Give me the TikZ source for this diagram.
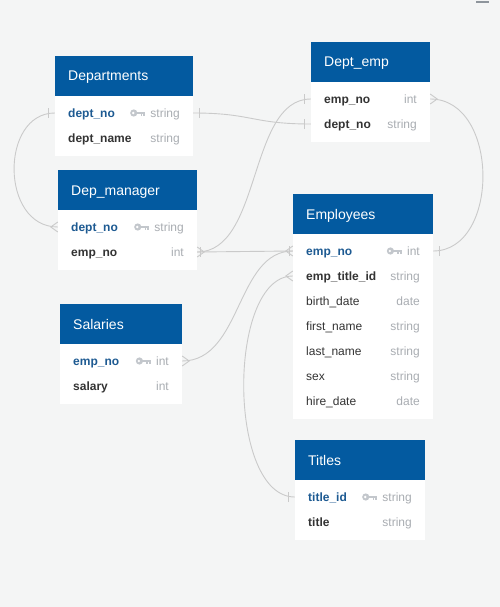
\documentclass[tikz,border=0pt]{standalone}
\usepackage{fontspec}
\setmainfont{Liberation Sans}
\definecolor{canvas}{HTML}{F4F5F5}
\definecolor{hdrblue}{HTML}{035AA0}
\definecolor{pkblue}{HTML}{1D5A92}
\definecolor{fdark}{HTML}{333333}
\definecolor{ftgray}{HTML}{A9ADB2}
\definecolor{keygray}{HTML}{C3C7CC}
\definecolor{linkgray}{HTML}{CACACA}
\definecolor{markgray}{HTML}{8E959C}

% table header: id, x, y (top), width, title
\newcommand{\erhead}[5]{%
  \node[hdr, minimum width=#4, anchor=north west] (#1) at (#2,#3) {};
  \node[hdrtext, anchor=base west] (#1-title) at (#2+13,#3+25) {#5};
}
% table body: id, x, y (top of header), width, height
\newcommand{\erbody}[5]{%
  \node[bodybox, minimum width=#4, minimum height=#5, anchor=north west] (#1-body) at (#2,#3+40) {};
}
% field row: id, x, y (row centre), width, name style, name, type, key flag
\newcommand{\erfield}[8]{%
  \node[rowbox, minimum width=#4] (#1) at (#2+#4/2,#3) {};
  \node[#5, anchor=base west] (#1-name) at (#2+13,#3+4.3) {#6};
  \node[ftype, anchor=base east] (#1-type) at (#2+#4-13,#3+4.3) {#7};
  \ifnum#8=1 \pic at ([xshift=-5pt]#1-type.west |- #1.center) {erkey};\fi
}

\tikzset{
  hdr/.style={rectangle, fill=hdrblue, minimum height=40, inner sep=0, draw=none},
  hdrtext/.style={text=white, inner sep=0, font=\fontsize{14}{16}\selectfont},
  bodybox/.style={rectangle, fill=white, inner sep=0, draw=none},
  rowbox/.style={rectangle, minimum height=25, inner sep=0, draw=none},
  pkname/.style={text=pkblue, inner sep=0, font=\fontsize{12}{14}\selectfont\bfseries},
  fname/.style={text=fdark, inner sep=0, font=\fontsize{12}{14}\selectfont\bfseries},
  plainname/.style={text=fdark, inner sep=0, font=\fontsize{12}{14}\selectfont},
  ftype/.style={text=ftgray, inner sep=0, font=\fontsize{12}{14}\selectfont},
  conn/.style={draw=linkgray, line width=0.9pt},
  pics/erkey/.style={code={
    \fill[keygray] (-11.5,0) circle (3.6);
    \fill[white] (-12,0) circle (1.3);
    \fill[keygray] (-9,-1.4) rectangle (0,1.4);
    \fill[keygray] (-4.6,1.4) rectangle (-2.9,3.3);
    \fill[keygray] (-1.8,1.4) rectangle (0,3.3);
  }},
  pics/crowone/.style={code={\draw[conn] (6,-5) -- (6,5);}},
  pics/crowmany/.style={code={\draw[conn] (0,-5) -- (7,0) -- (0,5);}},
  pics/crowonemany/.style={code={
    \draw[conn] (0,-5) -- (7,0) -- (0,5);
    \draw[conn] (3,-5) -- (3,5);}},
}

\begin{document}
\begin{tikzpicture}[x=1pt,y=-1pt]
  \fill[canvas] (0,0) rectangle (500,607);
  \useasboundingbox (0,0) rectangle (500,607);
  \fill[markgray] (476,1) rectangle (489,3.5);

  % Departments
  \erhead{dpt}{55}{56}{138}{Departments}
  \erbody{dpt}{55}{56}{138}{60}
  \erfield{dpt-r1}{55}{113}{138}{pkname}{dept\_no}{string}{1}
  \erfield{dpt-r2}{55}{138}{138}{fname}{dept\_name}{string}{0}

  % Dep_manager
  \erhead{mgr}{58}{170}{139}{Dep\_manager}
  \erbody{mgr}{58}{170}{139}{60}
  \erfield{mgr-r1}{58}{227}{139}{pkname}{dept\_no}{string}{1}
  \erfield{mgr-r2}{58}{252}{139}{fname}{emp\_no}{int}{0}

  % Dept_emp
  \erhead{de}{311}{42}{119}{Dept\_emp}
  \erbody{de}{311}{42}{119}{60}
  \erfield{de-r1}{311}{99}{119}{fname}{emp\_no}{int}{0}
  \erfield{de-r2}{311}{124}{119}{fname}{dept\_no}{string}{0}

  % Employees
  \erhead{emp}{293}{194}{140}{Employees}
  \erbody{emp}{293}{194}{140}{185}
  \erfield{emp-r1}{293}{251}{140}{pkname}{emp\_no}{int}{1}
  \erfield{emp-r2}{293}{276}{140}{fname}{emp\_title\_id}{string}{0}
  \erfield{emp-r3}{293}{301}{140}{plainname}{birth\_date}{date}{0}
  \erfield{emp-r4}{293}{326}{140}{plainname}{first\_name}{string}{0}
  \erfield{emp-r5}{293}{351}{140}{plainname}{last\_name}{string}{0}
  \erfield{emp-r6}{293}{376}{140}{plainname}{sex}{string}{0}
  \erfield{emp-r7}{293}{401}{140}{plainname}{hire\_date}{date}{0}

  % Salaries
  \erhead{sal}{60}{304}{122}{Salaries}
  \erbody{sal}{60}{304}{122}{60}
  \erfield{sal-r1}{60}{361}{122}{pkname}{emp\_no}{int}{1}
  \erfield{sal-r2}{60}{386}{122}{fname}{salary}{int}{0}

  % Titles
  \erhead{ttl}{295}{440}{130}{Titles}
  \erbody{ttl}{295}{440}{130}{60}
  \erfield{ttl-r1}{295}{497}{130}{pkname}{title\_id}{string}{1}
  \erfield{ttl-r2}{295}{522}{130}{fname}{title}{string}{0}

  % relationships
  \draw[conn] (dpt-r1.west) .. controls (0,113) and (0,227) .. (mgr-r1.west);
  \draw[conn] (dpt-r1.east) .. controls (252,113) and (252,124) .. (de-r2.west);
  \draw[conn] (mgr-r2.east) .. controls (262,252) and (248,99) .. (de-r1.west);
  \draw[conn] (mgr-r2.east) .. controls (245,252) and (245,251) .. (emp-r1.west);
  \draw[conn] (sal-r1.east) .. controls (242,361) and (236,251) .. (emp-r1.west);
  \draw[conn] (emp-r2.west) .. controls (227,276) and (227,497) .. (ttl-r1.west);
  \draw[conn] (emp-r1.east) .. controls (500,251) and (500,99) .. (de-r1.east);

  % cardinality marks
  \pic[rotate=180] at (dpt-r1.west) {crowone};
  \pic[rotate=180] at (mgr-r1.west) {crowmany};
  \pic at (dpt-r1.east) {crowone};
  \pic[rotate=180] at (de-r2.west) {crowone};
  \pic at (mgr-r2.east) {crowonemany};
  \pic[rotate=180] at (de-r1.west) {crowone};
  \pic[rotate=180] at (emp-r1.west) {crowonemany};
  \pic at (sal-r1.east) {crowmany};
  \pic[rotate=180] at (emp-r2.west) {crowmany};
  \pic[rotate=180] at (ttl-r1.west) {crowone};
  \pic at (emp-r1.east) {crowone};
  \pic at (de-r1.east) {crowmany};
\end{tikzpicture}
\end{document}
